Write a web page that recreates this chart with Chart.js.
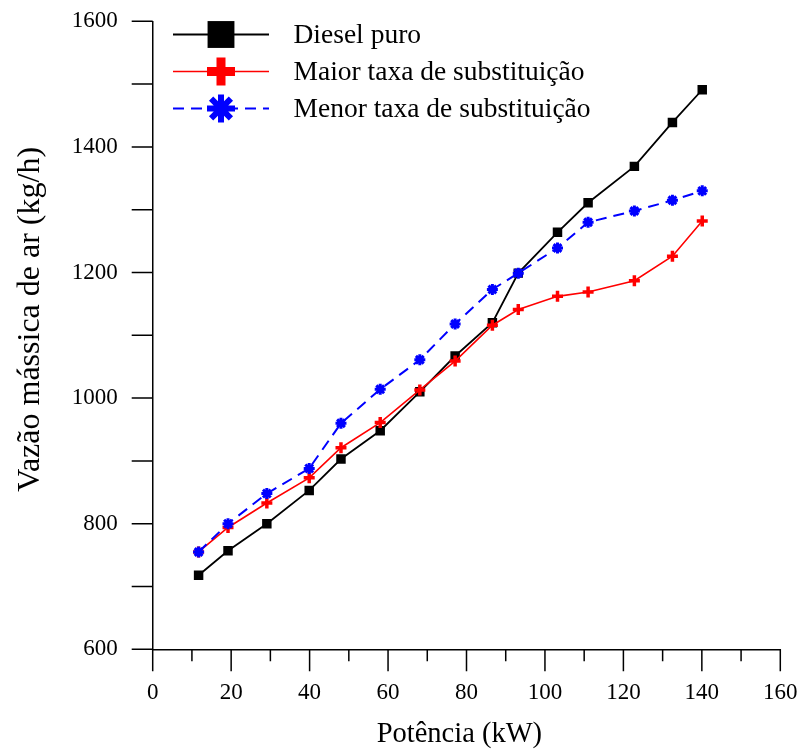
<!DOCTYPE html>
<html>
<head>
<meta charset="utf-8">
<title>Vazão mássica de ar</title>
<script src="https://cdn.jsdelivr.net/npm/chart.js@4.4.0/dist/chart.umd.min.js"></script>
<style>
  html, body { margin: 0; padding: 0; background: #fff; }
  #wrap { width: 802px; height: 749px; }
</style>
</head>
<body>
<div id="wrap"><canvas id="vazao-chart" width="802" height="749"></canvas></div>
<script>
// valores
const potencia = [11.7, 19.2, 29.1, 39.9, 48.0, 58.0, 68.1, 77.1, 86.6, 93.2, 103.2, 111.0, 122.8, 132.5, 140.1];
const dieselPuro = [718, 757, 800, 853, 903, 948, 1010, 1067, 1120, 1199, 1264, 1311, 1369, 1439, 1491];
const maiorTaxa = [755, 794, 833, 873, 921, 961, 1013, 1059, 1116, 1141, 1162, 1169, 1187, 1226, 1282];
const menorTaxa = [755, 800, 848, 888, 960, 1014, 1061, 1118, 1173, 1199, 1239, 1280, 1298, 1315, 1330];

const xTicks = [0, 20, 40, 60, 80, 100, 120, 140, 160];
const yTicks = [600, 800, 1000, 1200, 1400, 1600];

const serif = "'Liberation Serif', 'Times New Roman', serif";
Chart.defaults.font.family = serif;
Chart.defaults.color = '#000';

function pts(ys) {
    return potencia.map((x, i) => ({x: x, y: ys[i]}));
}

// ticks maiores e menores, para fora dos eixos
const tracosPlugin = {
    id: 'tracos',
    afterDraw(chart) {
        const {ctx, scales: {x, y}} = chart;
        ctx.save();
        ctx.strokeStyle = '#000';
        ctx.lineWidth = 1.5;
        ctx.beginPath();
        for (let i = 0; i < xTicks.length; i++) {
            const px = x.getPixelForValue(xTicks[i]);
            ctx.moveTo(px, x.top);
            ctx.lineTo(px, x.top + 22);
            if (i < xTicks.length - 1) {
                const mx = x.getPixelForValue((xTicks[i] + xTicks[i + 1]) / 2);
                ctx.moveTo(mx, x.top);
                ctx.lineTo(mx, x.top + 12);
            }
        }
        for (let i = 0; i < yTicks.length; i++) {
            const py = y.getPixelForValue(yTicks[i]);
            ctx.moveTo(y.right, py);
            ctx.lineTo(y.right - 21, py);
            if (i < yTicks.length - 1) {
                const my = y.getPixelForValue((yTicks[i] + yTicks[i + 1]) / 2);
                ctx.moveTo(y.right, my);
                ctx.lineTo(y.right - 21, my);
            }
        }
        ctx.stroke();
        ctx.restore();
    }
};

// legenda no estilo do Origin: linha com o símbolo no meio
const legendaPlugin = {
    id: 'legenda',
    afterDraw(chart) {
        const ctx = chart.ctx;
        const rows = [34.5, 71.5, 108.5];
        chart.data.datasets.forEach((ds, i) => {
            const y = rows[i];
            ctx.save();
            ctx.strokeStyle = ds.borderColor;
            ctx.lineWidth = ds.borderWidth;
            ctx.setLineDash(ds.borderDash || []);
            ctx.beginPath();
            ctx.moveTo(173, y);
            ctx.lineTo(269, y);
            ctx.stroke();
            ctx.setLineDash([]);
            ctx.fillStyle = ds.pointBackgroundColor;
            ctx.strokeStyle = ds.pointBorderColor;
            ctx.lineWidth = ds.legendBorder;
            Chart.helpers.drawPoint(ctx, {
                pointStyle: ds.pointStyle, rotation: 0,
                radius: ds.legendRadius, borderWidth: ds.legendBorder
            }, 221, y);
            ctx.fillStyle = '#000';
            ctx.font = '27.5px ' + serif;
            ctx.textBaseline = 'middle';
            ctx.textAlign = 'left';
            ctx.fillText(ds.label, 293.5, y + 1);
            ctx.restore();
        });
    }
};

const ctx = document.getElementById('vazao-chart').getContext('2d');
const chart = new Chart(ctx, {
    type: 'line',
    data: {
        datasets: [{
            label: 'Diesel puro',
            data: pts(dieselPuro),
            borderColor: '#000', borderWidth: 1.8,
            pointStyle: 'rect', pointRadius: 6.7, pointBorderWidth: 0,
            pointBackgroundColor: '#000', pointBorderColor: '#000',
            legendRadius: 19, legendBorder: 0,
            order: 3
        }, {
            label: 'Maior taxa de substituição',
            data: pts(maiorTaxa),
            borderColor: '#ff0000', borderWidth: 1.6,
            pointStyle: 'cross', pointRadius: 5.5, pointBorderWidth: 3.5,
            pointBackgroundColor: '#ff0000', pointBorderColor: '#ff0000',
            legendRadius: 14, legendBorder: 9,
            order: 2
        }, {
            label: 'Menor taxa de substituição',
            data: pts(menorTaxa),
            borderColor: '#0000ff', borderWidth: 2, borderDash: [11, 7],
            pointStyle: 'star', pointRadius: 5.5, pointBorderWidth: 3,
            pointBackgroundColor: '#0000ff', pointBorderColor: '#0000ff',
            legendRadius: 14, legendBorder: 6,
            order: 1
        }]
    },
    options: {
        responsive: false,
        animation: false,
        layout: {padding: {top: 21.3, right: 21.7, bottom: 0, left: 0}},
        plugins: {
            legend: {display: false},
            tooltip: {enabled: false}
        },
        elements: {line: {tension: 0}},
        scales: {
            x: {
                type: 'linear', min: 0, max: 160,
                afterBuildTicks: s => { s.ticks = xTicks.map(v => ({value: v})); },
                afterFit: s => { s.height = 99.7; },
                grid: {display: false, drawTicks: true, tickLength: 30},
                border: {display: true, color: '#000', width: 1.5},
                ticks: {padding: 0, font: {size: 23}, maxRotation: 0, autoSkip: false, callback: v => String(v)},
                title: {display: true, text: 'Potência (kW)  ', font: {size: 28.5, lineHeight: 1}, padding: 0}
            },
            y: {
                type: 'linear', min: 600, max: 1600,
                afterBuildTicks: s => { s.ticks = yTicks.map(v => ({value: v})); },
                afterFit: s => { s.width = 152.7; },
                grid: {display: false, drawTicks: true, tickLength: 35},
                border: {display: true, color: '#000', width: 1.5},
                ticks: {padding: 0, font: {size: 23}, callback: v => String(v)},
                title: {display: true, text: '    Vazão mássica de ar (kg/h)', font: {size: 32, lineHeight: 1}, padding: {top: 15, bottom: 0}}
            }
        }
    },
    plugins: [tracosPlugin, legendaPlugin]
});
</script>
</body>
</html>
